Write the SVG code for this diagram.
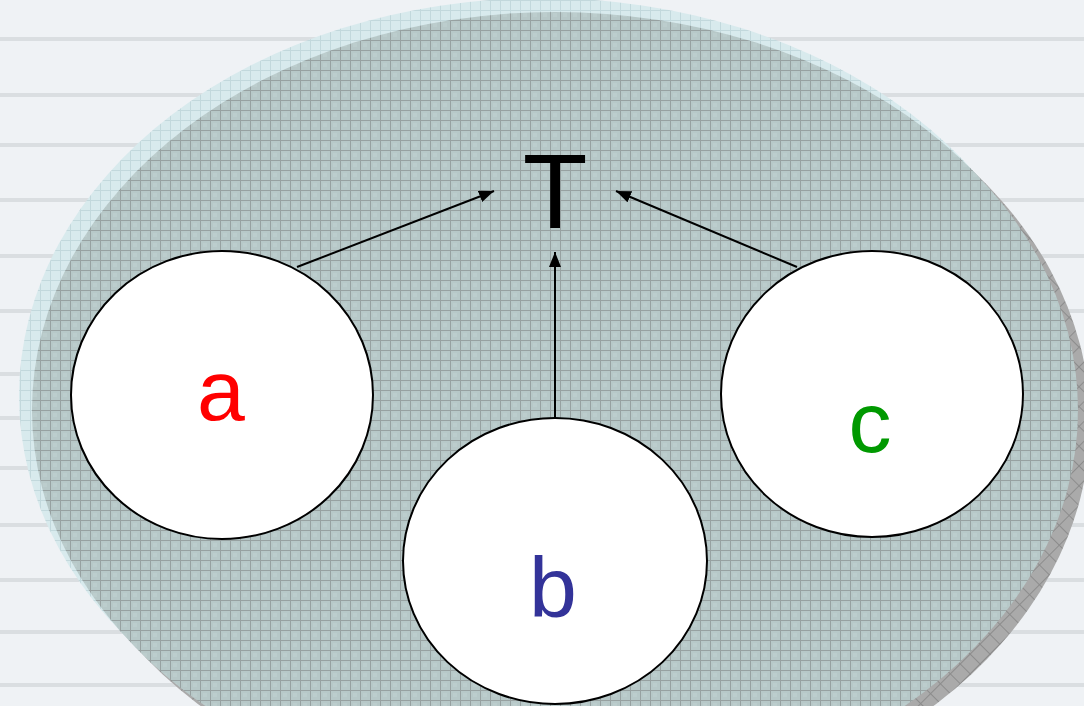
<svg xmlns="http://www.w3.org/2000/svg" width="1084" height="706" viewBox="0 0 1084 706">
<style>
.stripe{fill:#dadee1}
.node{fill:#ffffff;stroke:#000000;stroke-width:2}
.lbl{font-family:"Liberation Sans",Arial,sans-serif;text-anchor:middle}
.edge{stroke:#000000;stroke-width:2;fill:none;marker-end:url(#arr)}
</style>
<defs>
<pattern id="gridMain" width="10" height="10" patternUnits="userSpaceOnUse">
<rect width="10" height="10" fill="#b7c8c8"/>
<rect x="3" y="3" width="4" height="4" fill="#bccdcd"/>
<path d="M0,0.5 H10 M0.5,0 V10" stroke="#97a1a1" stroke-width="1"/>
</pattern>
<pattern id="gridHalo" width="10" height="10" patternUnits="userSpaceOnUse">
<rect width="10" height="10" fill="#d8eaed"/>
<path d="M0,0.5 H10 M0.5,0 V10" stroke="#c2d8dc" stroke-width="1"/>
</pattern>
<pattern id="gridShadow" width="14" height="14" patternUnits="userSpaceOnUse" patternTransform="rotate(45)">
<rect width="14" height="14" fill="#aaaaaa"/>
<path d="M0,0.5 H14 M0.5,0 V14" stroke="#8c8c8c" stroke-width="1"/>
</pattern>
<marker id="arr" viewBox="0 0 15 12" refX="15" refY="6" markerWidth="15" markerHeight="12" markerUnits="userSpaceOnUse" orient="auto">
<path d="M0,0 L15,6 L0,12 Z" fill="#000000"/>
</marker>
</defs>
<g id="background">
<rect width="1084" height="706" fill="#eff2f5"/>
<rect class="stripe" x="0" y="37" width="1084" height="4"/>
<rect class="stripe" x="0" y="93" width="1084" height="4"/>
<rect class="stripe" x="0" y="143" width="1084" height="4"/>
<rect class="stripe" x="0" y="198" width="1084" height="4"/>
<rect class="stripe" x="0" y="254" width="1084" height="4"/>
<rect class="stripe" x="0" y="309" width="1084" height="4"/>
<rect class="stripe" x="0" y="372" width="1084" height="4"/>
<rect class="stripe" x="0" y="416" width="1084" height="4"/>
<rect class="stripe" x="0" y="466" width="1084" height="4"/>
<rect class="stripe" x="0" y="523" width="1084" height="4"/>
<rect class="stripe" x="0" y="578" width="1084" height="4"/>
<rect class="stripe" x="0" y="630" width="1084" height="4"/>
<rect class="stripe" x="0" y="683" width="1084" height="4"/>
</g>
<g id="container">
<ellipse cx="542" cy="396" rx="523" ry="398" fill="url(#gridHalo)"/>
<ellipse cx="567" cy="422" rx="523" ry="398" fill="url(#gridShadow)"/>
<ellipse cx="555" cy="410" rx="523" ry="398" fill="url(#gridMain)"/>
</g>
<g id="connectors">
<line class="edge" x1="297" y1="267" x2="494" y2="191"/>
<line class="edge" x1="555" y1="418" x2="555" y2="252"/>
<line class="edge" x1="797" y1="267" x2="616" y2="191"/>
</g>
<g id="node-T">
<text class="lbl" x="555" y="228" font-size="106" fill="#000000">T</text>
</g>
<g id="node-a">
<ellipse class="node" cx="222" cy="395" rx="151" ry="144"/>
<text class="lbl" x="221" y="420" font-size="86" fill="#ff0000">a</text>
</g>
<g id="node-b">
<ellipse class="node" cx="555" cy="561" rx="152" ry="143"/>
<text class="lbl" x="553" y="617" font-size="86" fill="#333399">b</text>
</g>
<g id="node-c">
<ellipse class="node" cx="872" cy="394" rx="151" ry="143"/>
<text class="lbl" x="870" y="452" font-size="86" fill="#009900">c</text>
</g>
</svg>
